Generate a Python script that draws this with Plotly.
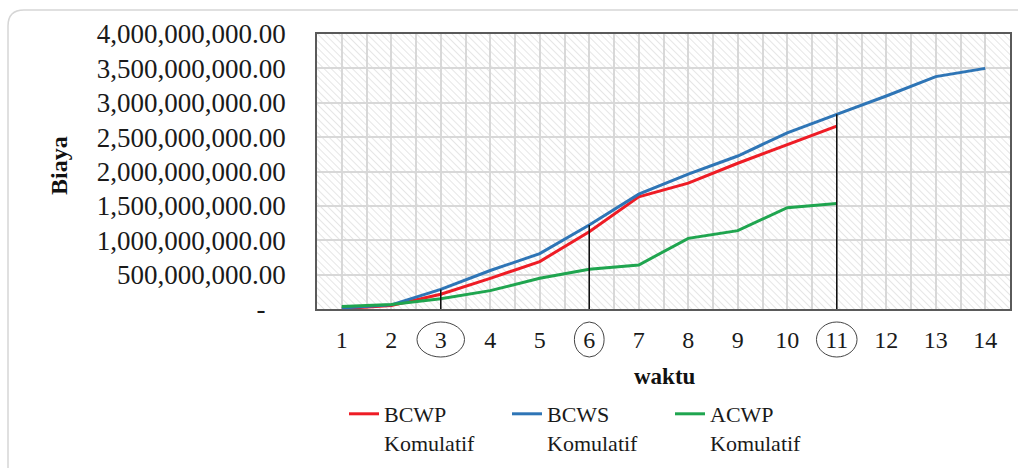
import base64
import plotly.graph_objects as go

# ---- data (values in rupiah) ----
waktu = list(range(1, 15))
bcws = [15e6, 60e6, 285e6, 560e6, 805e6, 1222e6, 1670e6, 1962e6, 2225e6, 2562e6, 2832e6, 3098e6, 3380e6, 3500e6]
bcwp = [5e6, 50e6, 215e6, 445e6, 690e6, 1125e6, 1632e6, 1830e6, 2120e6, 2385e6, 2660e6, None, None, None]
acwp = [35e6, 65e6, 148e6, 267e6, 446e6, 577e6, 640e6, 1028e6, 1140e6, 1474e6, 1535e6, None, None, None]
highlight_times = [3, 6, 11]
y_ticks = [0, 5e8, 1e9, 1.5e9, 2e9, 2.5e9, 3e9, 3.5e9, 4e9]
series_names = ["BCWP<br>Komulatif", "BCWS<br>Komulatif", "ACWP<br>Komulatif"]
series_colors = ["#ee1c25", "#2e75b6", "#1fa54f"]

W, H = 1018, 468
L, R, T, B = 317, 8, 34, 159
PW, PH = W - L - R, H - T - B


def px2x(px):
    return (px - L) / PW


def py2y(py):
    return (H - B - py) / PH


FONT = "Liberation Serif"

fig = go.Figure()
for name, vals, col in zip(series_names, [bcwp, bcws, acwp], series_colors):
    fig.add_trace(go.Scatter(x=waktu, y=vals, mode="lines", name=name,
                             line=dict(color=col, width=3), connectgaps=False))

# vertical marker lines at highlighted times, up to BCWS value
shapes = []
for t in highlight_times:
    shapes.append(dict(type="line", xref="x", yref="y", x0=t, x1=t, y0=0,
                       y1=bcws[t - 1], line=dict(color="#111111", width=1.5)))
# ellipses around highlighted tick labels
radii = {3: 0.48, 6: 0.30, 11: 0.41}
for t in highlight_times:
    r = radii[t]
    shapes.append(dict(type="circle", xref="x", yref="paper", x0=t - r, x1=t + r,
                       y0=py2y(357), y1=py2y(322),
                       line=dict(color="#444444", width=1)))
# outer rounded frame
path = (f"M {px2x(8)},{py2y(470)} L {px2x(8)},{py2y(26)} "
        f"Q {px2x(8)},{py2y(10)} {px2x(24)},{py2y(10)} L {px2x(1020)},{py2y(10)}")
shapes.append(dict(type="path", xref="paper", yref="paper", path=path,
                   line=dict(color="#d6d6d6", width=1.5), layer="below"))

# hatched plot background
svg = (f"<svg xmlns='http://www.w3.org/2000/svg' width='{PW}' height='{PH}'>"
       "<defs><pattern id='p' width='5' height='5' patternUnits='userSpaceOnUse' "
       "patternTransform='rotate(-45)'><line x1='0' y1='0' x2='0' y2='5' "
       "stroke='#d9d9d9' stroke-width='1.3'/></pattern></defs>"
       "<rect width='100%' height='100%' fill='url(#p)'/></svg>")
src = "data:image/svg+xml;base64," + base64.b64encode(svg.encode()).decode()

ticktext = ["-\u00a0\u00a0\u00a0" if v == 0 else f"{v:,.2f}" for v in y_ticks]

fig.update_layout(
    width=W, height=H,
    margin=dict(l=L, r=R, t=T, b=B, autoexpand=False),
    paper_bgcolor="white", plot_bgcolor="white",
    font=dict(family=FONT, color="#1a1a1a"),
    shapes=shapes,
    images=[dict(source=src, xref="paper", yref="paper", x=0, y=1, sizex=1, sizey=1,
                 sizing="stretch", xanchor="left", yanchor="top", layer="below")],
    showlegend=True,
    legend=dict(orientation="h", xref="container", yref="container",
                x=344 / W, y=1 - 393 / H, xanchor="left", yanchor="top",
                font=dict(family=FONT, size=22, color="#1a1a1a"),
                entrywidth=118, entrywidthmode="pixels", valign="top",
                bgcolor="rgba(0,0,0,0)", itemwidth=30, tracegroupgap=0),
    annotations=[
        dict(text="<b>waktu</b>", xref="paper", yref="paper", x=px2x(665), y=py2y(376),
             xanchor="center", yanchor="middle", showarrow=False,
             font=dict(family=FONT, size=23, color="#111111")),
        dict(text="<b>Biaya</b>", xref="paper", yref="paper", x=px2x(59), y=py2y(166),
             xanchor="center", yanchor="middle", showarrow=False, textangle=-90,
             font=dict(family=FONT, size=24, color="#111111")),
    ],
)
fig.update_xaxes(range=[0.5, 14.5], tickmode="array", tickvals=waktu,
                 ticktext=[str(w) for w in waktu],
                 tickfont=dict(family=FONT, size=24, color="#1a1a1a"),
                 showgrid=True, gridcolor="#d8d8d8", gridwidth=1.5,
                 minor=dict(tickmode="array", tickvals=[w + 0.5 for w in waktu[:-1]],
                            showgrid=True, gridcolor="#d8d8d8", gridwidth=1.5),
                 showline=True, linecolor="#5a5a5a", linewidth=1.5, mirror=True,
                 ticks="", ticklabelstandoff=8, zeroline=False, fixedrange=True,
                 automargin=False)
fig.update_yaxes(range=[0, 4e9], tickmode="array", tickvals=y_ticks, ticktext=ticktext,
                 tickfont=dict(family=FONT, size=27, color="#1a1a1a"),
                 showgrid=True, gridcolor="#d8d8d8", gridwidth=1.5,
                 showline=True, linecolor="#5a5a5a", linewidth=1.5, mirror=True,
                 ticks="", ticklabelstandoff=24, zeroline=False, fixedrange=True,
                 automargin=False)

fig.write_html("out.html", config={"displayModeBar": False},
               post_script="document.body.style.margin='0';"
                           "document.body.style.overflow='hidden';")
